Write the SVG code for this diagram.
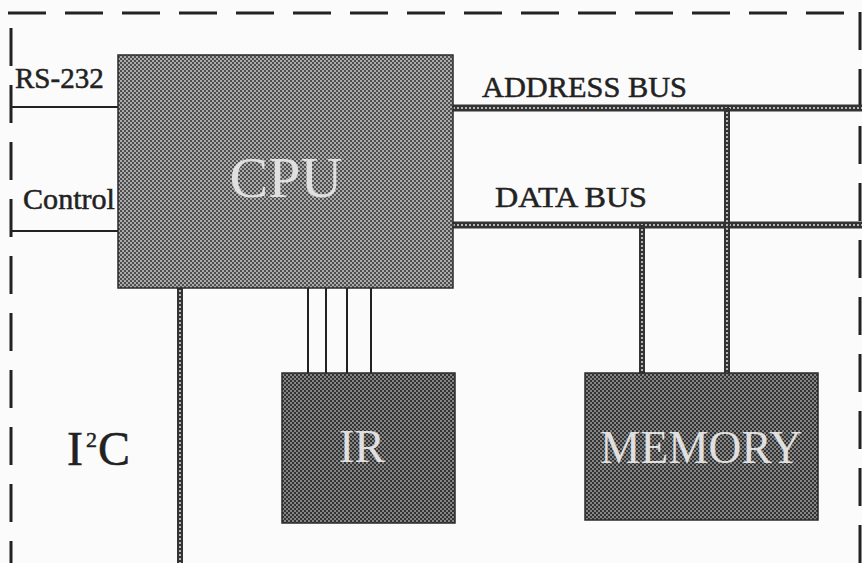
<svg xmlns="http://www.w3.org/2000/svg" width="862" height="563" viewBox="0 0 862 563">
  <style>
    .lbl { font-family: "Liberation Serif", "Times New Roman", serif; fill: #222; stroke: #222; stroke-width: 0.5; }
    .inner { font-family: "Liberation Serif", "Times New Roman", serif; fill: #e0e0e0; text-anchor: middle; }
    .box { stroke: #2a2a2a; stroke-width: 1.5; }
    .border { fill: none; stroke: #222; stroke-width: 3; stroke-dasharray: 38 19; }
    .wire { fill: none; stroke: #222; stroke-width: 2; }
    .busOuter { fill: none; stroke: #333; stroke-width: 7; }
    .busInner { fill: none; stroke: #b5b5b5; stroke-width: 2; stroke-dasharray: 2 2; }
    .vOuter { fill: none; stroke: #333; stroke-width: 6; }
    .vInner { fill: none; stroke: #b5b5b5; stroke-width: 2; stroke-dasharray: 2 2; }
  </style>
  <defs>
    <pattern id="cpuPat" width="4" height="4" patternUnits="userSpaceOnUse">
      <rect width="4" height="4" fill="#4e4e4e"/>
      <rect width="2" height="2" fill="#ababab"/>
      <rect x="2" y="2" width="2" height="2" fill="#ababab"/>
    </pattern>
    <pattern id="darkPat" width="4" height="4" patternUnits="userSpaceOnUse">
      <rect width="4" height="4" fill="#333"/>
      <rect width="2" height="2" fill="#858585"/>
      <rect x="2" y="2" width="2" height="2" fill="#858585"/>
    </pattern>
  </defs>
  <rect width="862" height="563" fill="#fbfbfb"/>

  <g id="frame">
    <line class="border" x1="8" y1="13" x2="862" y2="13"/>
    <line class="border" x1="11" y1="28" x2="11" y2="563"/>
    <line class="border" x1="860" y1="12" x2="860" y2="563"/>
  </g>

  <g id="connectors">
    <line class="wire" x1="11" y1="107" x2="118" y2="107"/>
    <line class="wire" x1="11" y1="231" x2="118" y2="231"/>
    <line class="busOuter" x1="453" y1="108" x2="862" y2="108"/>
    <line class="busInner" x1="453" y1="108" x2="862" y2="108"/>
    <line class="busOuter" x1="453" y1="225" x2="862" y2="225"/>
    <line class="busInner" x1="453" y1="225" x2="862" y2="225"/>
    <line class="vOuter" x1="727" y1="108" x2="727" y2="373"/>
    <line class="vInner" x1="727" y1="112" x2="727" y2="373"/>
    <line class="vOuter" x1="642" y1="225" x2="642" y2="373"/>
    <line class="vInner" x1="642" y1="229" x2="642" y2="373"/>
    <line class="vOuter" x1="180" y1="288" x2="180" y2="563"/>
    <line class="vInner" x1="180" y1="290" x2="180" y2="563"/>
    <line class="wire" x1="308" y1="288" x2="308" y2="373"/>
    <line class="wire" x1="326" y1="288" x2="326" y2="373"/>
    <line class="wire" x1="347" y1="288" x2="347" y2="373"/>
    <line class="wire" x1="371" y1="288" x2="371" y2="373"/>
  </g>

  <g id="cpu">
    <rect class="box" x="118" y="55" width="335" height="233" fill="url(#cpuPat)"/>
    <text class="inner" x="286" y="197" font-size="58">CPU</text>
  </g>

  <g id="ir">
    <rect class="box" x="282" y="373" width="173" height="150" fill="url(#darkPat)"/>
    <text class="inner" x="362" y="462" font-size="46">IR</text>
  </g>

  <g id="memory">
    <rect class="box" x="585" y="373" width="233" height="147" fill="url(#darkPat)"/>
    <text class="inner" x="701" y="463" font-size="46" textLength="202" lengthAdjust="spacingAndGlyphs">MEMORY</text>
  </g>

  <g id="labels">
    <text class="lbl" x="15" y="88" font-size="29">RS-232</text>
    <text class="lbl" x="23" y="209" font-size="29" textLength="92" lengthAdjust="spacingAndGlyphs">Control</text>
    <text class="lbl" x="482" y="97" font-size="29" textLength="205" lengthAdjust="spacingAndGlyphs">ADDRESS BUS</text>
    <text class="lbl" x="495" y="207" font-size="29" textLength="152" lengthAdjust="spacingAndGlyphs">DATA BUS</text>
    <text class="lbl" x="67" y="465" font-size="48">I<tspan font-size="22" dy="-18" dx="3">2</tspan><tspan dy="18" dx="1">C</tspan></text>
  </g>
</svg>
